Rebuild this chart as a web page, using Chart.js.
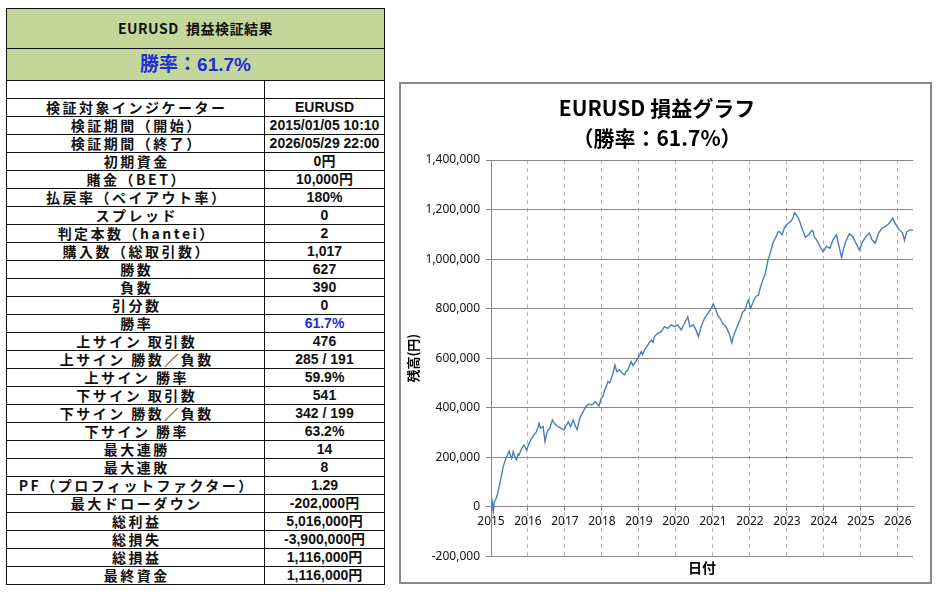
<!DOCTYPE html>
<html lang="ja">
<head>
<meta charset="UTF-8">
<title>EURUSD 損益検証結果</title>
<script src="https://cdn.jsdelivr.net/npm/chart.js"></script>
<style>
  body { margin: 0; width: 936px; height: 592px; background: #fff; position: relative; overflow: hidden; }
  #result {
    position: absolute; left: 6px; top: 8px; width: 378px;
    border-collapse: collapse; table-layout: fixed;
    font-family: "Noto Sans CJK JP", sans-serif; color: #111;
  }
  #result td { border: 1px solid #111; padding: 0; text-align: center; white-space: nowrap; overflow: hidden; height: 17px; line-height: 17px; }
  #result td.lbl { font-size: 14px; font-weight: bold; letter-spacing: 2.5px; padding-left: 2.5px; }
  #result td.val { font-family: "Liberation Sans", "Noto Sans CJK JP", sans-serif; font-size: 14px; font-weight: bold; }
  #result tr.head td { background: #c4d79b; font-weight: bold; }
  .blue { color: #1d2fd6; }
  #chartBox { position: absolute; left: 399px; top: 82px; width: 533px; height: 502px; box-sizing: border-box; border: 2px solid #8a8a8a; }
</style>
</head>
<body>
<table id="result">
  <colgroup><col style="width:258px"><col style="width:120px"></colgroup>
  <tbody id="rows">
    <tr class="head"><td colspan="2" style="height:39px;line-height:39px;font-size:14px;letter-spacing:0.5px">EURUSD&nbsp; 損益検証結果</td></tr>
    <tr class="head"><td colspan="2" class="blue" style="height:31px;line-height:31px;font-size:19px;font-family:'Liberation Sans','Noto Sans CJK JP',sans-serif">勝率：61.7%</td></tr>
    <tr><td></td><td></td></tr>
  </tbody>
</table>

<div id="chartBox"><canvas id="pnlChart" width="529" height="498"></canvas></div>

<script>
// 検証結果テーブル
var statLabels = ['検証対象インジケーター', '検証期間（開始）', '検証期間（終了）', '初期資金', '賭金（BET）',
  '払戻率（ペイアウト率）', 'スプレッド', '判定本数（hantei）', '購入数（総取引数）', '勝数', '負数', '引分数', '勝率',
  '上サイン 取引数', '上サイン 勝数／負数', '上サイン 勝率', '下サイン 取引数', '下サイン 勝数／負数', '下サイン 勝率',
  '最大連勝', '最大連敗', 'PF（プロフィットファクター）', '最大ドローダウン', '総利益', '総損失', '総損益', '最終資金'];
var statValues = ['EURUSD', '2015/01/05 10:10', '2026/05/29 22:00', '0円', '10,000円',
  '180%', '0', '2', '1,017', '627', '390', '0', '61.7%',
  '476', '285 / 191', '59.9%', '541', '342 / 199', '63.2%',
  '14', '8', '1.29', '-202,000円', '5,016,000円', '-3,900,000円', '1,116,000円', '1,116,000円'];

// 損益グラフ（日付は西暦の小数表記）
var tradeDates = [2015.00, 2015.02, 2015.04, 2015.06, 2015.09, 2015.13, 2015.17, 2015.22, 2015.26, 2015.30,
  2015.33, 2015.38, 2015.42, 2015.49, 2015.53, 2015.56, 2015.60, 2015.65, 2015.69, 2015.73,
  2015.76, 2015.80, 2015.83, 2015.89, 2015.93, 2015.96, 2016.03, 2016.10, 2016.16, 2016.23,
  2016.27, 2016.30, 2016.34, 2016.41, 2016.46, 2016.52, 2016.59, 2016.66, 2016.72, 2016.75,
  2016.82, 2016.89, 2016.97, 2017.02, 2017.09, 2017.15, 2017.22, 2017.29, 2017.33, 2017.40,
  2017.47, 2017.56, 2017.64, 2017.73, 2017.82, 2017.92, 2017.98, 2018.03, 2018.07, 2018.10,
  2018.16, 2018.21, 2018.25, 2018.30, 2018.35, 2018.40, 2018.47, 2018.55, 2018.61, 2018.65,
  2018.70, 2018.79, 2018.84, 2018.88, 2018.97, 2019.06, 2019.10, 2019.15, 2019.24, 2019.33,
  2019.38, 2019.42, 2019.51, 2019.60, 2019.69, 2019.78, 2019.87, 2019.96, 2020.05, 2020.14,
  2020.23, 2020.32, 2020.38, 2020.47, 2020.54, 2020.61, 2020.68, 2020.77, 2020.86, 2020.95,
  2021.01, 2021.08, 2021.13, 2021.20, 2021.26, 2021.35, 2021.44, 2021.51, 2021.56, 2021.62,
  2021.69, 2021.75, 2021.80, 2021.87, 2021.92, 2021.96, 2022.02, 2022.11, 2022.17, 2022.23,
  2022.29, 2022.35, 2022.42, 2022.49, 2022.55, 2022.62, 2022.71, 2022.76, 2022.80, 2022.87,
  2022.93, 2022.98, 2023.10, 2023.16, 2023.21, 2023.27, 2023.33, 2023.41, 2023.50, 2023.59,
  2023.65, 2023.70, 2023.74, 2023.83, 2023.92, 2023.98, 2024.07, 2024.16, 2024.25, 2024.34,
  2024.41, 2024.48, 2024.53, 2024.59, 2024.69, 2024.78, 2024.87, 2024.96, 2025.05, 2025.14,
  2025.23, 2025.30, 2025.39, 2025.48, 2025.57, 2025.68, 2025.77, 2025.86, 2025.95, 2026.04,
  2026.13, 2026.18, 2026.24, 2026.33, 2026.41];
var balance = [0, -15000, 12000, -20000, 20000, 30000, 47000, 80000, 108000, 140000,
  162000, 185000, 202000, 225000, 205000, 195000, 222000, 200000, 189000, 212000,
  209000, 225000, 236000, 249000, 238000, 229000, 256000, 276000, 290000, 303000,
  320000, 337000, 317000, 323000, 263000, 303000, 317000, 350000, 335000, 330000,
  323000, 317000, 310000, 323000, 343000, 323000, 350000, 323000, 312000, 357000,
  377000, 404000, 415000, 411000, 424000, 407000, 438000, 445000, 471000, 478000,
  505000, 500000, 518000, 540000, 572000, 545000, 552000, 539000, 532000, 545000,
  552000, 586000, 570000, 579000, 599000, 626000, 615000, 633000, 653000, 673000,
  664000, 687000, 700000, 707000, 727000, 720000, 734000, 727000, 734000, 714000,
  740000, 767000, 727000, 734000, 714000, 687000, 727000, 760000, 780000, 800000,
  819000, 794000, 774000, 760000, 741000, 727000, 700000, 662000, 690000, 714000,
  740000, 761000, 785000, 795000, 820000, 835000, 801000, 835000, 850000, 855000,
  889000, 916000, 943000, 997000, 1024000, 1064000, 1091000, 1110000, 1111000, 1098000,
  1125000, 1138000, 1151000, 1165000, 1188000, 1175000, 1160000, 1124000, 1088000, 1098000,
  1112000, 1115000, 1091000, 1071000, 1044000, 1030000, 1051000, 1044000, 1078000, 1098000,
  1051000, 1005000, 1040000, 1071000, 1102000, 1091000, 1064000, 1037000, 1071000, 1091000,
  1105000, 1078000, 1064000, 1105000, 1124000, 1134000, 1145000, 1165000, 1138000, 1118000,
  1105000, 1075000, 1111000, 1118000, 1116000];
var yearTicks = [2015, 2016, 2017, 2018, 2019, 2020, 2021, 2022, 2023, 2024, 2025, 2026];
var chartTitle = ['EURUSD 損益グラフ', '（勝率：61.7%）'];

var tbody = document.getElementById('rows');
for (var i = 0; i < statLabels.length; i++) {
  var tr = document.createElement('tr');
  var a = document.createElement('td');
  a.className = 'lbl';
  a.textContent = statLabels[i];
  var b = document.createElement('td');
  b.className = 'val' + (statLabels[i] === '勝率' ? ' blue' : '');
  b.textContent = statValues[i];
  tr.appendChild(a);
  tr.appendChild(b);
  tbody.appendChild(tr);
}

var points = tradeDates.map(function (d, i) { return { x: d, y: balance[i] }; });

new Chart(document.getElementById('pnlChart'), {
  type: 'line',
  data: {
    datasets: [{
      data: points,
      borderColor: '#4a7ebb',
      borderWidth: 1.4,
      pointRadius: 0,
      tension: 0
    }]
  },
  options: {
    responsive: false,
    animation: false,
    layout: { padding: { left: 0, right: 17, top: 0, bottom: 0 } },
    plugins: {
      legend: { display: false },
      tooltip: { enabled: false },
      title: {
        display: true,
        text: chartTitle,
        color: '#000',
        font: { family: '"Noto Sans CJK JP"', size: 21, weight: 'bold', lineHeight: 1.43 },
        padding: { top: 9, bottom: 7 }
      },
      subtitle: {
        display: true,
        position: 'bottom',
        fullSize: false,
        text: '日付',
        color: '#000',
        font: { family: '"Noto Sans CJK JP"', size: 14, weight: 'bold', lineHeight: 1.2 },
        padding: { top: 3, bottom: 6 }
      }
    },
    scales: {
      x: {
        type: 'linear',
        position: { y: 0 },
        min: 2015,
        max: 2026.41,
        afterBuildTicks: function (s) { s.ticks = yearTicks.map(function (v) { return { value: v }; }); },
        ticks: {
          color: '#111',
          padding: 4,
          font: { family: '"Noto Sans"', size: 12 },
          callback: function (v) { return String(v); }
        },
        grid: { color: '#b4b4b4', tickLength: 4, tickColor: '#868686' },
        border: { color: '#868686', dash: [4, 4] }
      },
      y: {
        min: -200000,
        max: 1400000,
        afterFit: function (s) { s.width = 90; },
        ticks: {
          stepSize: 200000,
          color: '#111',
          padding: 6,
          font: { family: '"Noto Sans"', size: 12 },
          callback: function (v) { return v.toLocaleString('en-US'); }
        },
        grid: { color: '#868686', tickLength: 5 },
        border: { color: '#868686' },
        title: {
          display: true,
          text: '残高(円)',
          color: '#000',
          font: { family: '"Noto Sans CJK JP"', size: 13, weight: 'bold' },
          padding: { top: 4, bottom: 4 }
        }
      }
    }
  }
});
</script>
</body>
</html>
